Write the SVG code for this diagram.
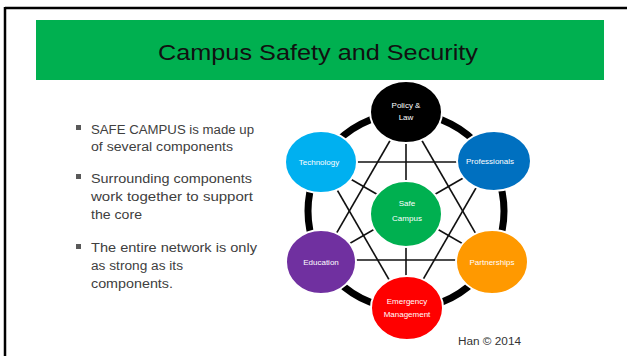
<svg xmlns="http://www.w3.org/2000/svg" width="627" height="356" viewBox="0 0 627 356">
<style>
.body{font-family:"Liberation Sans",Arial,sans-serif;font-size:12.5px;fill:#404040}
.lbl{font-family:"Liberation Sans",Arial,sans-serif;font-size:8px;fill:#ffffff;text-anchor:middle}
.node{stroke:#ffffff;stroke-width:2}
.thin{stroke:#111111;stroke-width:1.6;fill:none}
.bul{fill:#595959}
</style>
<rect width="627" height="356" fill="#ffffff"/>
<g id="frame">
<line x1="5" y1="8" x2="627" y2="8" stroke="#000" stroke-width="2.5"/>
<line x1="5" y1="7" x2="5" y2="356" stroke="#000" stroke-width="2.5"/>
</g>
<g id="banner">
<rect x="36" y="20" width="568" height="60" fill="#00B050"/>
<text x="318" y="60" font-family="Liberation Sans, Arial, sans-serif" font-size="22" fill="#111" text-anchor="middle" textLength="320" lengthAdjust="spacingAndGlyphs">Campus Safety and Security</text>
</g>
<g id="bullets">
<rect class="bul" x="76" y="125" width="5" height="5"/>
<text class="body" x="91" y="134" textLength="163" lengthAdjust="spacingAndGlyphs">SAFE CAMPUS is made up</text>
<text class="body" x="91" y="151" textLength="142" lengthAdjust="spacingAndGlyphs">of several components</text>
<rect class="bul" x="76" y="174" width="5" height="5"/>
<text class="body" x="91" y="183" textLength="161" lengthAdjust="spacingAndGlyphs">Surrounding components</text>
<text class="body" x="91" y="201" textLength="162" lengthAdjust="spacingAndGlyphs">work together to support</text>
<text class="body" x="91" y="219" textLength="51" lengthAdjust="spacingAndGlyphs">the core</text>
<rect class="bul" x="76" y="244" width="5" height="5"/>
<text class="body" x="91" y="252" textLength="166" lengthAdjust="spacingAndGlyphs">The entire network is only</text>
<text class="body" x="91" y="270" textLength="92" lengthAdjust="spacingAndGlyphs">as strong as its</text>
<text class="body" x="91" y="288" textLength="82" lengthAdjust="spacingAndGlyphs">components.</text>
</g>
<g id="connectors">
<circle cx="406" cy="211" r="98" fill="none" stroke="#000" stroke-width="7"/>
<line class="thin" x1="406" y1="113" x2="321" y2="260"/>
<line class="thin" x1="406" y1="113" x2="491" y2="260"/>
<line class="thin" x1="321" y1="260" x2="491" y2="260"/>
<line class="thin" x1="406" y1="309" x2="321" y2="162"/>
<line class="thin" x1="406" y1="309" x2="491" y2="162"/>
<line class="thin" x1="321" y1="162" x2="491" y2="162"/>
<line class="thin" x1="406" y1="211" x2="406" y2="113"/>
<line class="thin" x1="406" y1="211" x2="406" y2="309"/>
<line class="thin" x1="406" y1="211" x2="321" y2="162"/>
<line class="thin" x1="406" y1="211" x2="491" y2="162"/>
<line class="thin" x1="406" y1="211" x2="321" y2="260"/>
<line class="thin" x1="406" y1="211" x2="491" y2="260"/>
</g>
<g id="policy">
<ellipse class="node" cx="406" cy="112" rx="36" ry="31" fill="#000000"/>
<text class="lbl" x="406" y="108">Policy &amp;</text>
<text class="lbl" x="406" y="120">Law</text>
</g>
<g id="technology">
<ellipse class="node" cx="321" cy="162" rx="36" ry="31" fill="#00B0F0"/>
<text class="lbl" x="319" y="165">Technology</text>
</g>
<g id="professionals">
<ellipse class="node" cx="494" cy="161" rx="37" ry="30" fill="#0070C0"/>
<text class="lbl" x="490" y="164">Professionals</text>
</g>
<g id="safecampus">
<ellipse class="node" cx="406" cy="214" rx="36" ry="33" fill="#00B050"/>
<text class="lbl" x="407" y="206">Safe</text>
<text class="lbl" x="407" y="221">Campus</text>
</g>
<g id="education">
<ellipse class="node" cx="321" cy="262" rx="35" ry="32" fill="#7030A0"/>
<text class="lbl" x="321" y="265">Education</text>
</g>
<g id="partnerships">
<ellipse class="node" cx="492" cy="262" rx="36" ry="32" fill="#FF9900"/>
<text class="lbl" x="492" y="265">Partnerships</text>
</g>
<g id="emergency">
<ellipse class="node" cx="407" cy="308" rx="36" ry="32" fill="#FF0000"/>
<text class="lbl" x="407" y="304">Emergency</text>
<text class="lbl" x="407" y="317">Management</text>
</g>
<text x="458" y="345" font-family="Liberation Sans, Arial, sans-serif" font-size="10" fill="#333" textLength="63" lengthAdjust="spacingAndGlyphs">Han © 2014</text>
</svg>
